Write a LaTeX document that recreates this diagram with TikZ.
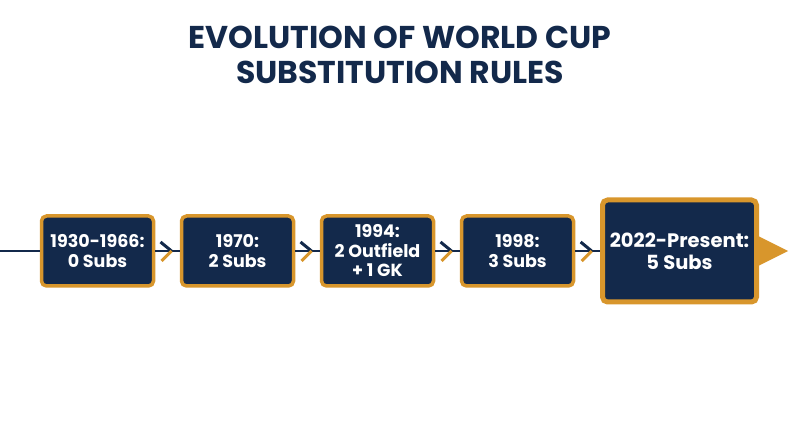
\documentclass[tikz,border=0pt]{standalone}
\usepackage{fontspec}
\setmainfont{Poppins}
\usetikzlibrary{calc}
\definecolor{navy}{HTML}{13294B}
\definecolor{gold}{HTML}{D8962C}
\begin{document}
\begin{tikzpicture}[x=1pt,y=1pt,
  yearbox/.style={draw=gold, fill=navy, line width=3.5pt, rounded corners=5pt,
    minimum width=112pt, minimum height=70pt, align=center, text=white,
    font=\fontsize{17.5}{19.5}\selectfont\bfseries, inner sep=1pt},
  bigbox/.style={yearbox, line width=5pt, minimum width=154pt, minimum height=102pt, font=\fontsize{19.5}{22}\selectfont\bfseries},
  tl/.style={draw=navy, line width=2pt},
  chev/.style={line width=3pt}]
\useasboundingbox (0,0) rectangle (800,447);
\node[text=navy, align=center, font=\fontsize{31.5}{35}\selectfont\bfseries] (title) at (400,392) {EVOLUTION OF WORLD CUP\\SUBSTITUTION RULES};
\coordinate (start) at (0,196);
\node[yearbox] (b1) at (97.5,196) {1930-1966:\\0 Subs};
\node[yearbox] (b2) at (237.5,196) {1970:\\2 Subs};
\node[yearbox] (b3) at (377.5,196) {1994:\\2 Outfield\\+ 1 GK};
\node[yearbox] (b4) at (517.5,196) {1998:\\3 Subs};
\draw[tl] (start) -- (b1.west);
\draw[tl] (b1.east) -- (b2.west);
\draw[tl] (b2.east) -- (b3.west);
\draw[tl] (b3.east) -- (b4.west);
\node[bigbox] (b5) at (679.5,196) {2022-Present:\\5 Subs};
\draw[tl] (b4.east) -- (b5.west);
\fill[gold] ($(b5.east)+(-1,15)$) -- ($(b5.east)+(29,0)$) -- ($(b5.east)+(-1,-15)$) -- cycle;
\foreach \a/\b in {b1/b2,b2/b3,b3/b4,b4/b5}{
  \coordinate (m) at ($(\a.east)!0.5!(\b.west)$);
  \draw[chev, navy] ($(m)+(-7,9)$) -- ($(m)+(4,0)$);
  \draw[chev, gold] ($(m)+(4,0)$) -- ($(m)+(-6,-10)$);
}
\end{tikzpicture}
\end{document}
